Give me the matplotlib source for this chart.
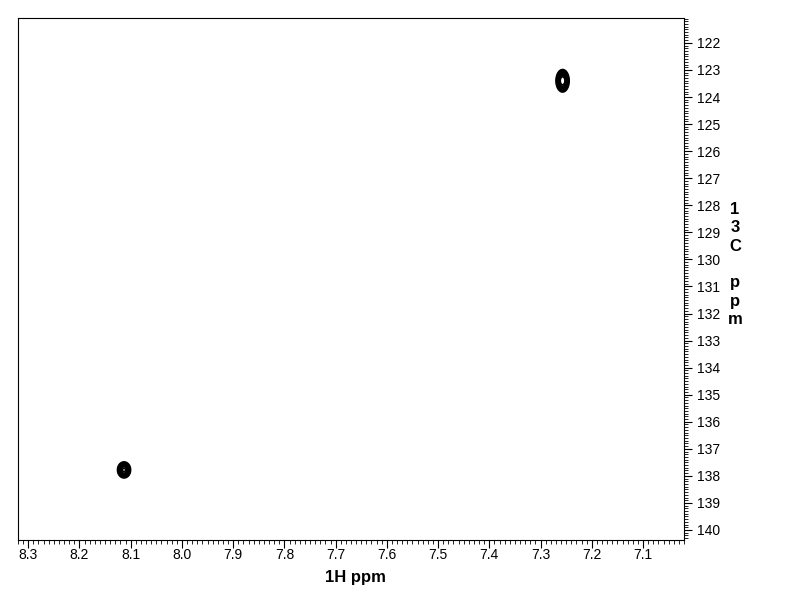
import numpy as np
import matplotlib
matplotlib.use("Agg")
import matplotlib.pyplot as plt
from matplotlib.ticker import MultipleLocator

plt.rcParams['font.family'] = ['Liberation Sans', 'DejaVu Sans']

# Peak data (1H ppm, 13C ppm, width 1H, width 13C, relative intensity)
peak_h = [7.257, 8.113]
peak_c = [123.40, 137.78]
peak_wh = [0.0054, 0.0056]
peak_wc = [0.175, 0.13]
peak_amp = [1.0, 0.8]
levels = [0.06, 0.09, 0.13, 0.19, 0.27, 0.38, 0.52, 0.7]

xlim = (8.32, 7.02)
ylim = (140.37, 121.08)

fig = plt.figure(figsize=(7.92, 6.12), dpi=100)
ax = fig.add_axes([18/792, 1-540/612, (684-18)/792, (540-18)/612])

xh = np.linspace(7.02, 8.32, 1600)
yc = np.linspace(121.0, 140.5, 1600)
X, Y = np.meshgrid(xh, yc)
Z = np.zeros_like(X)
for h, c, wh, wc, a in zip(peak_h, peak_c, peak_wh, peak_wc, peak_amp):
    Z += a * np.exp(-((X-h)/wh)**2/2 - ((Y-c)/wc)**2/2)
ax.contour(X, Y, Z, levels=levels, colors='black', linewidths=1.2)

ax.set_xlim(*xlim)
ax.set_ylim(*ylim)
ax.yaxis.tick_right()
ax.yaxis.set_label_position('right')
ax.xaxis.set_major_locator(MultipleLocator(0.1))
ax.xaxis.set_minor_locator(MultipleLocator(0.01))
ax.yaxis.set_major_locator(MultipleLocator(1))
ax.yaxis.set_minor_locator(MultipleLocator(0.1))
ax.xaxis.set_major_formatter(matplotlib.ticker.FormatStrFormatter('%.1f'))
ax.tick_params(axis='both', which='major', length=6, width=0.8, labelsize=10, direction='out')
ax.tick_params(axis='both', which='minor', length=3, width=0.6, direction='out')
ax.tick_params(axis='x', pad=0)
ax.tick_params(axis='y', pad=3)
for s in ax.spines.values():
    s.set_linewidth(0.8)

ax.set_xlabel('1H ppm', fontsize=12, fontweight='bold')
ax.xaxis.set_label_coords((355-18)/666, -(570-540)/522)
ax.xaxis.label.set_va('top')
fig.text(735/792, 1-202/612, '1\n3\nC\n\np\np\nm', fontsize=12, fontweight='bold',
         ha='center', va='top', linespacing=1.28)

fig.savefig('out.png', dpi=100)
